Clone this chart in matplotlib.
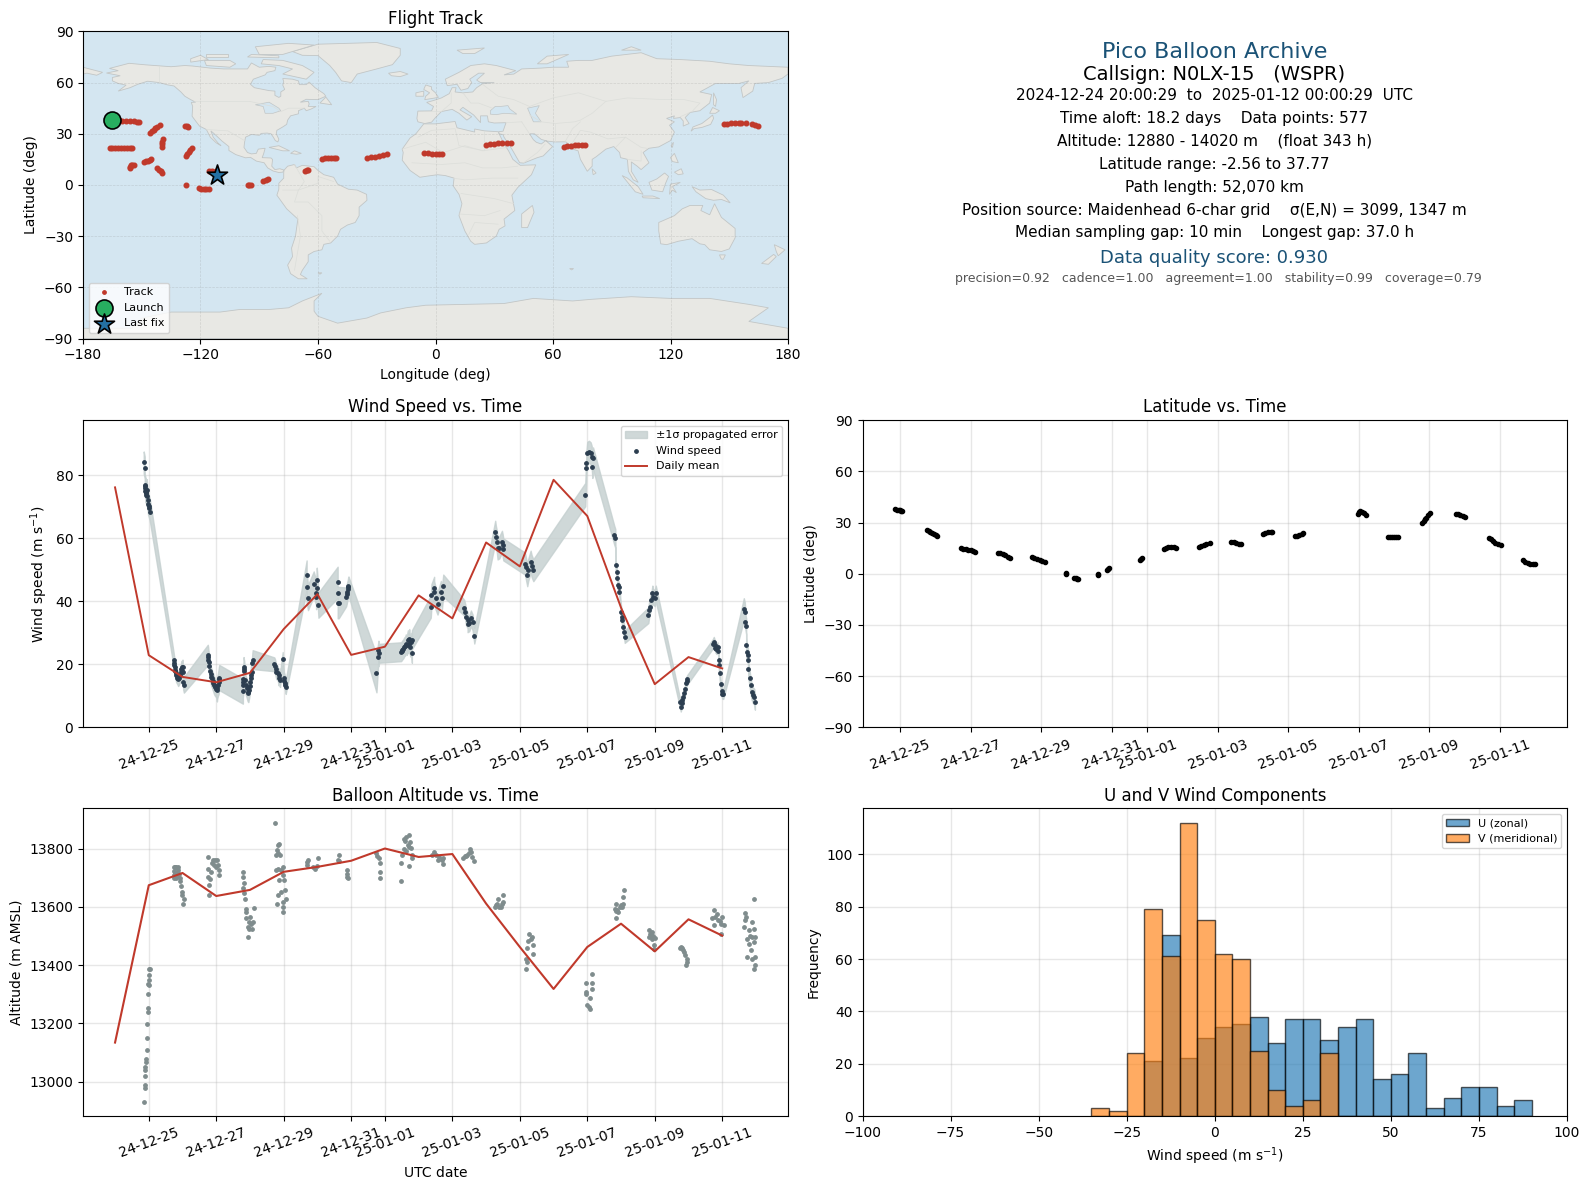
# Pico balloon summary dashboard

import numpy as np
import pandas as pd
import matplotlib
matplotlib.use('Agg')
from matplotlib import pyplot as plt
import matplotlib.dates as mdates

# days are counted from 2024-12-25 00:00 UTC
BASE_DATE = '2024-12-25'
tick_dates = ['2024-12-25', '2024-12-27', '2024-12-29', '2024-12-31', '2025-01-01', '2025-01-03',
              '2025-01-05', '2025-01-07', '2025-01-09', '2025-01-11']

mean_days = [-1, 0, 1, 2, 3, 4, 5, 6, 7, 8, 9, 10, 11, 12, 13, 14, 15, 16, 17]
wind_mean = [76.2, 22.9, 16, 14.3, 17.3, 31.2, 42.3, 23, 25.6, 41.9, 34.6, 58.7, 51.1, 78.6, 67.1, 38, 13.7, 22.3, 18.7]
alt_mean = [13134, 13674, 13716, 13637, 13658, 13720, 13737, 13758, 13800, 13771, 13781, 13611, 13462, 13318,
            13462, 13542, 13447, 13557, 13501]

wind_days = [
    -0.15, -0.12, -0.12, -0.11, -0.10, -0.10, -0.09, -0.08, -0.07, -0.07, -0.06, -0.05, -0.03, -0.02, 0.0, 0.02, 0.04,
    0.74, 0.75, 0.76, 0.77, 0.78, 0.79, 0.80, 0.81, 0.83, 0.85, 0.87, 0.90, 0.92, 0.95, 0.96, 0.98, 0.99, 1.0, 1.0, 1.02, 1.04,
    1.75, 1.76, 1.77, 1.78, 1.80, 1.82, 1.83, 1.85, 1.87, 1.89, 1.91, 1.93, 1.95, 1.97, 2.0, 2.02, 2.03, 2.05, 2.07, 2.08, 2.09,
    2.79, 2.79, 2.80, 2.80, 2.81, 2.81, 2.83, 2.85, 2.87, 2.90, 2.93, 2.95, 2.97, 2.99, 3.0, 3.02, 3.03, 3.05, 3.07, 3.08,
    3.72, 3.74, 3.76, 3.78, 3.82, 3.85, 3.87, 3.89, 3.97, 4.0, 4.02, 4.04, 4.05, 4.06,
    4.68, 4.68, 4.72, 4.89, 4.96, 4.96, 4.98, 5.0, 5.03,
    5.6, 5.6, 5.6, 5.63, 5.85, 5.87, 5.88, 5.9, 5.91, 5.92,
    6.75, 6.81, 6.81, 6.83,
    7.48, 7.5, 7.52, 7.55, 7.57, 7.6, 7.62, 7.65, 7.68, 7.7, 7.72, 7.75, 7.78, 7.8, 7.8,
    8.36, 8.38, 8.46, 8.46, 8.5, 8.56, 8.66, 8.69, 8.73,
    9.35, 9.38, 9.4, 9.45, 9.45, 9.5, 9.55, 9.6, 9.65,
    10.27, 10.29, 10.32, 10.34, 10.39, 10.47, 10.49, 10.51,
    11.15, 11.17, 11.22, 11.25, 11.32, 11.35, 11.4,
    12.94, 12.97, 12.97, 13.0, 13.05, 13.1, 13.13, 13.15, 13.17,
    13.8, 13.83, 13.84, 13.87, 13.89, 13.91, 13.93, 13.95,
    14.0, 14.02, 14.04, 14.07, 14.09, 14.11,
    14.81, 14.83, 14.85, 14.9, 14.93, 14.95, 15.0, 15.03,
    15.74, 15.77, 15.8, 15.82, 15.85, 15.88, 15.9, 15.93, 15.95, 15.97,
    16.72, 16.75, 16.78, 16.8, 16.83, 16.86, 16.88,
    16.9, 16.9, 16.92, 16.95, 16.98, 17.0, 17.03,
    17.64, 17.67, 17.69, 17.71, 17.71, 17.72, 17.76, 17.77, 17.77, 17.81, 17.84, 17.87, 17.91, 17.95, 17.97,
]
wind_speed = [
    84.1, 82.5, 76.9, 76.5, 76.0, 75.0, 75.5, 74.5, 74.8, 73.8, 75.3, 73.5, 72.2, 71.0, 70.3, 69.5, 68.4,
    21.3, 20.5, 19.8, 19.0, 18.3, 17.8, 17.2, 16.6, 16.2, 15.8, 15.3, 15.8, 16.5, 17.5, 18.5, 19.0, 18.0, 19.3, 17.6, 14.5, 13.5,
    23.0, 22.3, 21.5, 20.6, 19.5, 17.8, 17.0, 16.0, 15.5, 14.8, 14.2, 13.5, 13.0, 12.7, 12.3, 11.7, 12.6, 13.5, 14.5, 15.3, 15.8,
    11.5, 13.4, 14.4, 15.2, 18.5, 19.3, 18.0, 15.0, 13.5, 12.5, 11.3, 11.0, 12.0, 13.2, 14.5, 15.5, 16.5, 17.5, 20.5, 21.5,
    20.0, 19.5, 18.5, 17.5, 17.3, 15.5, 16.5, 15.0, 21.7, 15.5, 14.8, 14.0, 13.3, 12.8,
    48.3, 44.5, 41.2, 45.5, 42.7, 41.5, 46.7, 44.1, 38.8,
    46.0, 42.8, 39.6, 39.6, 41.4, 42.3, 43.0, 43.8, 44.5, 44.9,
    17.1, 24.5, 22.4, 23.5,
    24.0, 24.3, 24.6, 25.0, 25.5, 25.8, 26.5, 26.0, 27.8, 26.5, 28.2, 25.5, 27.0, 23.5, 27.8,
    38.3, 42.0, 44.3, 43.0, 41.0, 39.3, 43.0, 41.0, 45.0,
    38.0, 36.7, 35.1, 34.0, 32.7, 33.0, 34.6, 33.3, 29.1,
    62.1, 60.5, 58.9, 56.8, 57.1, 58.9, 57.9, 56.5,
    52.0, 51.0, 48.3, 50.0, 52.6, 51.2, 49.9,
    73.9, 82.2, 83.8, 87.2, 87.5, 87.0, 85.9, 82.7, 85.4,
    61.0, 60.0, 51.5, 49.4, 47.5, 45.2, 44.7, 43.0,
    36.7, 35.1, 34.0, 32.0, 30.4, 28.8,
    35.6, 37.2, 38.3, 40.4, 42.5, 41.5, 41.0, 42.5,
    8.1, 6.5, 7.6, 8.7, 9.7, 10.8, 12.2, 14.0, 14.8, 15.2,
    26.5, 27.2, 26.2, 25.2, 24.8, 25.5, 24.3,
    21.3, 19.8, 17.1, 13.6, 11.6, 10.6, 10.5,
    37.5, 36.7, 33.4, 32.1, 26.1, 24.0, 22.9, 21.3, 18.4, 15.5, 13.4, 11.3, 10.2, 9.7, 8.1,
]
wind_err = [
    3.5, 3.5, 3.5, 3.5, 3.5, 3.5, 3.5, 3.5, 3.5, 3.5, 3.5, 3.5, 3.5, 3.5, 3.5, 3.5, 3.5,
    2.2, 2.2, 2.2, 2.2, 2.2, 2.2, 2.2, 2.2, 2.2, 2.2, 2.2, 2.2, 2.2, 2.2, 2.2, 2.2, 2.2, 2.2, 2.2, 2.5, 2.5,
    3.2, 3.2, 3.0, 3.0, 3.0, 2.8, 2.8, 2.8, 2.8, 2.8, 2.8, 2.8, 2.8, 2.8, 2.8, 3.5, 3.5, 3.5, 4.0, 4.0, 4.0,
    4.0, 4.0, 4.0, 4.0, 3.0, 3.0, 3.0, 3.0, 3.0, 3.0, 3.0, 3.0, 3.0, 3.0, 3.0, 3.0, 3.0, 3.0, 3.0, 3.0,
    2.2, 2.2, 2.2, 2.2, 2.2, 2.2, 2.2, 2.2, 2.2, 2.2, 2.2, 2.2, 2.2, 2.2,
    4.7, 4.7, 4.0, 4.0, 4.0, 4.0, 4.0, 4.0, 4.0,
    5.0, 5.0, 5.0, 5.0, 3.0, 3.0, 3.0, 3.0, 3.0, 3.0,
    6.0, 3.0, 3.0, 3.0,
    3.0, 3.0, 3.0, 3.0, 3.0, 3.0, 3.0, 3.0, 3.0, 3.0, 3.0, 3.0, 3.0, 3.0, 3.0,
    3.5, 3.5, 3.5, 3.5, 3.5, 3.5, 3.5, 3.5, 3.5,
    2.5, 2.5, 2.5, 2.5, 2.5, 2.5, 2.5, 2.5, 2.5,
    3.5, 3.5, 3.5, 3.5, 3.5, 3.5, 3.5, 3.5,
    3.5, 3.5, 3.5, 3.5, 3.5, 3.5, 3.5,
    3.7, 3.5, 3.5, 3.5, 3.5, 3.5, 3.5, 3.5, 3.5,
    3.0, 3.0, 1.5, 1.5, 1.5, 1.5, 1.5, 1.5,
    2.0, 2.0, 2.0, 2.0, 2.0, 2.0,
    2.5, 2.5, 2.5, 2.5, 2.5, 2.5, 2.5, 2.5,
    1.5, 1.5, 1.5, 1.5, 1.5, 1.5, 1.5, 1.5, 1.5, 1.5,
    1.5, 1.5, 1.5, 1.5, 1.5, 1.5, 1.5,
    1.5, 1.5, 1.5, 1.5, 1.5, 1.5, 1.5,
    3.5, 3.0, 2.5, 2.5, 2.5, 2.5, 2.5, 2.5, 2.5, 2.5, 2.5, 2.5, 2.5, 2.5, 2.5,
]

alt_days = [
    -0.15, -0.12, -0.12, -0.11, -0.10, -0.10, -0.08, -0.08, -0.06, -0.06, -0.06, -0.03, -0.03, -0.03, -0.03, 0.02, 0.0, 0.02, 0.0, 0.04,
    0.74, 0.74, 0.75, 0.76, 0.78, 0.78, 0.80, 0.82, 0.83, 0.85, 0.87, 0.88, 0.90, 0.92, 0.94, 0.96, 0.98, 1.01, 0.98, 1.03,
    1.75, 1.75, 1.75, 1.78, 1.80, 1.82, 1.85, 1.88, 1.90, 1.93, 1.95, 1.98, 2.01, 2.05, 2.07, 2.07,
    2.78, 2.78, 2.83, 2.78, 2.83, 2.85, 2.87, 2.88, 2.88, 2.93, 2.93, 2.96, 2.98, 3.0, 3.03, 3.06, 3.08, 3.11,
    3.73, 3.77, 3.79, 3.82, 3.84, 3.87, 3.90, 3.77, 3.84, 3.92, 3.99, 3.79, 3.82, 3.87, 3.93, 3.97, 3.97, 3.99, 4.02, 4.05, 4.07, 3.99,
    4.68, 4.71, 4.70, 4.86, 4.94, 4.98, 5.03,
    5.6, 5.63, 5.65, 5.87, 5.87, 5.88, 5.92,
    6.73, 6.78, 6.83, 6.84, 6.84, 6.84,
    7.49, 7.49, 7.52, 7.57, 7.57, 7.62, 7.67, 7.72, 7.74, 7.77, 7.79, 7.72, 7.8, 7.64, 7.59, 7.7,
    8.46, 8.51, 8.56, 8.61, 8.69, 8.71, 8.41, 8.73,
    9.33, 9.4, 9.48, 9.53, 9.55, 9.58, 9.65, 9.36, 9.44,
    10.27, 10.32, 10.34, 10.39, 10.44, 10.49, 10.51, 10.3, 10.47,
    11.18, 11.18, 11.22, 11.2, 11.4, 11.39, 11.25, 11.32, 11.27, 11.37,
    13.15, 13.13, 13.15, 12.96, 12.97, 12.96, 13.09, 13.0, 13.05, 13.07,
    13.84, 13.82, 13.86, 13.92, 14.0, 14.06, 14.07, 14.09, 13.89, 13.96, 13.84, 14.03,
    14.83, 14.88, 14.93, 14.83, 14.93, 15.0, 14.98, 14.98, 14.86, 14.96,
    15.74, 15.82, 15.87, 15.9, 15.95, 15.97, 15.92, 15.78, 15.85,
    16.75, 16.7, 16.8, 16.77, 16.88, 16.95, 17.0, 17.05, 16.95, 16.85, 16.92,
    17.95, 17.69, 17.67, 17.89, 17.64, 17.79, 17.94, 17.74, 17.87, 17.79, 17.94, 17.97, 17.84, 17.74, 17.87, 17.98, 17.94, 17.98, 17.71, 17.82,
]
alt_m = [
    12930, 12978, 12987, 13019, 13039, 13050, 13068, 13079, 13110, 13151, 13199, 13239, 13251, 13299, 13336, 13331, 13348, 13365, 13386, 13388,
    13735, 13722, 13710, 13700, 13737, 13715, 13700, 13735, 13715, 13705, 13738, 13725, 13712, 13700, 13690, 13670, 13650, 13609, 13640, 13628,
    13770, 13728, 13703, 13640, 13674, 13697, 13720, 13749, 13760, 13743, 13760, 13737, 13760, 13743, 13726, 13708,
    13720, 13703, 13680, 13663, 13648, 13628, 13594, 13582, 13560, 13497, 13531, 13548, 13525, 13565, 13542, 13525, 13548, 13597,
    13889, 13777, 13794, 13811, 13786, 13817, 13779, 13726, 13728, 13726, 13737, 13609, 13640, 13691, 13651, 13582, 13600, 13617, 13691, 13659, 13628, 13708,
    13743, 13760, 13752, 13737, 13729, 13740, 13769,
    13760, 13779, 13758, 13726, 13714, 13703, 13700,
    13783, 13774, 13768, 13749, 13718, 13700,
    13690, 13749, 13777, 13800, 13834, 13840, 13811, 13848, 13823, 13802, 13777, 13739, 13769, 13790, 13825, 13805,
    13789, 13777, 13760, 13771, 13760, 13746, 13779, 13766,
    13768, 13775, 13783, 13800, 13789, 13771, 13758, 13773, 13778,
    13600, 13611, 13628, 13600, 13600, 13617, 13640, 13605, 13608,
    13388, 13422, 13411, 13459, 13439, 13468, 13482, 13491, 13508, 13497,
    13371, 13340, 13319, 13339, 13308, 13299, 13288, 13262, 13256, 13250,
    13560, 13594, 13611, 13582, 13605, 13611, 13634, 13659, 13590, 13600, 13585, 13600,
    13520, 13508, 13514, 13497, 13491, 13493, 13468, 13454, 13505, 13500,
    13459, 13459, 13445, 13434, 13422, 13411, 13399, 13462, 13452,
    13588, 13560, 13565, 13539, 13554, 13542, 13565, 13537, 13508, 13575, 13550,
    13628, 13577, 13554, 13548, 13529, 13520, 13525, 13491, 13497, 13474, 13480, 13497, 13451, 13428, 13420, 13428, 13388, 13399, 13565, 13500,
]

lat_days = [
    -0.15, -0.10, -0.05, 0.0, 0.03, 0.05,
    0.75, 0.80, 0.85, 0.90, 0.95, 1.0, 1.05,
    1.73, 1.78, 1.85, 1.92, 2.0, 2.07, 2.11,
    2.77, 2.83, 2.9, 2.97, 3.05, 3.12,
    3.74, 3.8, 3.87, 3.95, 4.03, 4.1,
    4.69, 4.69,
    4.92, 4.97, 5.0, 5.04,
    5.61, 5.61,
    5.87, 5.9, 5.93,
    6.8, 6.83, 6.86,
    7.48, 7.53, 7.6, 7.68, 7.75, 7.83,
    8.46, 8.52, 8.6, 8.68, 8.77,
    9.38, 9.45, 9.52, 9.6, 9.66,
    10.29, 10.35, 10.42, 10.5, 10.54,
    11.18, 11.25, 11.32, 11.38, 11.43,
    12.98, 13.02, 13.05, 13.1, 13.15, 13.2,
    13.83, 13.88, 13.94, 14.0, 14.06, 14.12,
    14.8, 14.84, 14.88, 14.92, 14.97, 15.03,
    15.76, 15.82, 15.88, 15.95, 16.02,
    16.71, 16.76, 16.82, 16.88, 16.95, 17.03,
    17.66, 17.72, 17.8, 17.87, 17.95, 18.0,
]
lat_deg = [
    37.8, 37.7, 37.5, 37.2, 37.0, 36.9,
    25.9, 25.2, 24.5, 24.0, 23.3, 22.7, 22.1,
    15.3, 14.8, 14.5, 14.0, 13.7, 13.2, 12.8,
    12.2, 12.1, 11.5, 10.8, 9.9, 9.2,
    9.8, 9.4, 8.9, 8.1, 7.4, 6.8,
    -0.4, 0.3,
    -2.2, -2.5, -2.8, -3.0,
    -0.6, 0.0,
    2.4, 3.0, 3.3,
    8.0, 8.6, 9.0,
    14.6, 15.1, 15.5, 15.8, 15.9, 15.2,
    15.8, 16.2, 16.9, 17.4, 18.2,
    18.7, 18.5, 18.0, 17.6, 17.4,
    23.4, 23.9, 24.3, 24.6, 24.7,
    22.0, 22.3, 22.9, 23.5, 24.0,
    35.2, 36.3, 36.9, 36.4, 35.6, 34.3,
    21.8, 21.8, 21.8, 21.8, 21.8, 21.8,
    29.8, 30.8, 31.9, 33.0, 34.3, 35.7,
    34.9, 34.8, 34.6, 34.0, 33.4,
    21.2, 20.3, 19.3, 18.3, 17.4, 16.7,
    8.2, 7.2, 6.5, 6.0, 5.6, 5.6,
]

track_lon = [
    -161.7, -160, -158, -156, -154, -152.5, -151.4,
    -146, -145, -144, -143, -142, -140.9,
    -127.9, -127, -126.2,
    -139.5, -139.5, -139.5, -139.4,
    -166.4, -165, -163.5, -162, -160.5, -159, -157.5, -156, -155.2,
    -127.6, -126.8, -126, -125.2, -124.5,
    -148.9, -148, -147, -146, -145.1,
    -156.2, -156, -155.5, -154.8, -154,
    -142, -141, -140.2, -139.5,
    -127.6,
    -120.8, -119.5, -118, -117, -115.7,
    -115.7, -114, -112.3,
    -95.7, -95, -94.4,
    -88, -86.8, -85.3,
    -66.6, -65.8, -64.9,
    -57.8, -56.5, -55, -53.5, -52, -50.9,
    -34.8, -33, -31, -29, -27, -25,
    -5.8, -4, -2, 0, 2, 3.2,
    25.9, 28, 30, 32, 34, 36.5, 38.7,
    65.4, 67, 69, 71, 73, 75, 76.5,
    147.1, 149, 151, 153, 155, 156.2, 158.7, 161.8, 163, 164.7,
]
track_lat = [
    37.8, 37.7, 37.6, 37.4, 37.2, 37.0, 36.9,
    30.5, 31.5, 32.4, 33.3, 34.2, 35.2,
    34.8, 34.3, 33.9,
    22.3, 23.8, 25.4, 27,
    21.7, 21.8, 21.8, 21.7, 21.8, 21.7, 21.8, 21.8, 21.7,
    17.2, 18.2, 19.3, 20.5, 21.7,
    13.3, 13.8, 14.3, 14.9, 15.5,
    10, 10.8, 11.5, 11.7, 11.9,
    10, 9, 8, 7,
    0,
    -1.8, -2.2, -2.4, -2.5, -2.5,
    8.4, 8.3, 8,
    0, 0, 0,
    2.2, 2.8, 3.3,
    8, 8.5, 9,
    15.3, 15.6, 15.8, 15.9, 15.9, 15.9,
    15.9, 16.2, 16.6, 17, 17.6, 18.2,
    18.8, 18.5, 18.3, 18.1, 18, 18,
    23.5, 23.9, 24.2, 24.5, 24.6, 24.6, 24.7,
    22.1, 22.7, 23.1, 23.4, 23.6, 23.7, 23.7,
    35.6, 35.9, 36.2, 36.3, 36.4, 36.4, 36.4, 35.8, 35.2, 34.4,
]
launch_pos = (-165.2, 38.2)
last_fix_pos = (-111.6, 6.1)

hist_edges = [-35, -30, -25, -20, -15, -10, -5, 0, 5, 10, 15, 20, 25, 30, 35, 40, 45, 50, 55, 60, 65, 70, 75, 80, 85, 90]
u_counts = [0, 0, 0, 21, 69, 22, 30, 34, 35, 38, 28, 37, 37, 29, 34, 37, 14, 16, 24, 3, 7, 11, 11, 4, 6]
v_counts = [3, 2, 24, 79, 61, 112, 75, 62, 60, 25, 10, 4, 6, 24, 0, 0, 0, 0, 0, 0, 0, 0, 0, 0, 0]

# coarse land outlines (lon, lat)
north_america = [(-168, 65.6), (-162, 67), (-166.5, 68.3), (-156.5, 71.3), (-148, 70.4), (-135, 69.3), (-128, 70), (-124, 69.7),
                 (-115, 68.5), (-108, 68), (-100, 68), (-96, 68), (-94, 71.5), (-90, 69), (-85, 69.5), (-81.5, 69), (-82, 67), (-86, 66),
                 (-87, 64.5), (-93, 62), (-94.5, 59), (-92.5, 57), (-85, 55.3), (-82, 55), (-82, 52.5), (-80, 51.3), (-79, 52), (-79, 54.5),
                 (-77, 56), (-78, 58.5), (-77.5, 60.5), (-78, 62.4), (-73, 62), (-70, 61), (-69.5, 58.8), (-66, 58.8), (-64.5, 60.3),
                 (-61.5, 57), (-57, 53.5), (-56, 52), (-60, 50), (-66, 50.2), (-69, 48.5), (-65, 49), (-64.5, 47.5), (-65, 46), (-61, 46),
                 (-63.5, 44.5), (-66, 43.5), (-67, 45), (-70, 43.5), (-70, 41.7), (-74, 40.5), (-75.5, 38), (-76, 35.5), (-78, 34), (-81, 32),
                 (-81.3, 30), (-80, 26.8), (-80.5, 25.2), (-81.8, 26), (-82.8, 28), (-84, 30), (-86, 30.4), (-89, 30.2), (-90, 29.1),
                 (-94, 29.6), (-97, 28), (-97.5, 25), (-97.8, 22), (-96, 19), (-94, 18.2), (-91.5, 18.5), (-90.5, 21), (-87, 21.5),
                 (-87.7, 18.5), (-88.5, 16), (-84, 15.8), (-83.2, 14.9), (-83.6, 11), (-82, 9), (-79.5, 9.5), (-77.3, 8.7), (-78, 7.5),
                 (-80, 7.3), (-83, 8.2), (-85.7, 10), (-87.5, 13), (-91.5, 14), (-94.5, 16.2), (-97, 15.9), (-102, 17.8), (-105.5, 20.2),
                 (-105.5, 22.5), (-109, 25.7), (-112.5, 29.5), (-114.7, 31.7), (-113.5, 28), (-111, 24.5), (-109.5, 23), (-112, 24.7),
                 (-115, 28), (-117, 32.5), (-120.5, 34.5), (-122.5, 37.5), (-124.3, 40.3), (-124, 46), (-124.7, 48.4), (-122.5, 48.5),
                 (-125, 50), (-128, 52), (-130, 54.5), (-133.5, 58), (-137, 58.7), (-141, 60), (-147, 60.8), (-152, 59), (-156, 57),
                 (-162, 55), (-158, 58.5), (-162, 59.5), (-165, 61), (-165, 63), (-161, 64)]
greenland = [(-73, 78.2), (-68, 76), (-60, 75.8), (-54, 70), (-51, 66), (-48, 61), (-43, 60), (-40, 65), (-30, 68), (-22, 70.5),
             (-18, 76), (-18, 80), (-30, 83.5), (-60, 82.5)]
south_america = [(-77.3, 8.7), (-75.5, 11), (-72, 12), (-71, 10), (-68, 11.5), (-62, 10.7), (-60, 8.5), (-57, 6), (-52, 4.5), (-50, 0.5),
                 (-44.5, -2.5), (-40, -3), (-35.2, -5.5), (-35, -9), (-39, -13), (-39, -18), (-41, -22), (-45, -23.5), (-48.5, -26),
                 (-50, -30), (-53.5, -34), (-57, -34.8), (-58, -38), (-62, -39), (-65, -41), (-65, -45), (-68, -50), (-69, -52.5),
                 (-65.5, -55), (-70, -55), (-74, -52), (-75.5, -47), (-73, -42), (-73.5, -37), (-71.5, -30), (-70.3, -20), (-76, -14),
                 (-81, -6), (-80, -2.5), (-80, 1), (-77.5, 4), (-77.5, 7.5)]
africa = [(-6, 35.8), (0, 35.8), (10, 37.2), (11, 33.5), (20, 31), (20, 32.8), (25, 31.7), (32, 31.2), (32.5, 30), (35, 24), (37.3, 20),
          (39.5, 15), (43.3, 11.5), (51.2, 11.8), (49, 6), (42, -1.5), (39, -6), (40.5, -15), (35, -20), (35.5, -24), (32.5, -26),
          (31, -30), (26, -34), (20, -34.8), (18, -33), (15, -27), (12, -18), (13.5, -11), (12, -5.5), (9, -0.5), (9.5, 4), (5, 5.5),
          (1, 6), (-4, 5.2), (-8, 4.5), (-13, 8.5), (-17, 14.5), (-16.5, 19), (-17, 21), (-13, 27.5), (-10, 30)]
eurasia = [(-9, 37), (-9.5, 39), (-9, 43.3), (-2, 43.4), (-1, 46), (-4.5, 48.4), (-1, 49.5), (3, 51), (7, 53.5), (8.5, 57), (10.5, 57),
           (10, 54.5), (14, 54), (19, 54.5), (21, 57), (24, 59.3), (30, 60), (23, 60), (21, 61.5), (25, 65.5), (22, 65.5), (17.5, 62),
           (18.5, 60), (16.5, 56.5), (13, 55.5), (11, 59), (6, 58.2), (5, 62), (12, 66), (18, 70), (25, 71), (31, 70), (41, 67), (35, 64.5),
           (40, 65), (44, 68), (54, 68.5), (60, 69), (68, 69), (67, 72.5), (73, 73), (80, 73), (90, 75.5), (105, 77.5), (113, 74), (125, 73.5),
           (140, 72.5), (150, 71), (160, 70), (170, 69.5), (180, 69), (180, 65), (177, 62.5), (170, 60), (163, 59.5), (162, 55), (157, 51.2),
           (156, 57), (160, 61), (155, 59.5), (143, 59.5), (135, 54.5), (141, 53), (140, 48), (135, 43.5), (130, 42.5), (127.5, 39.5),
           (129.5, 36), (126.5, 34.5), (126.5, 37.5), (125, 39.5), (121.5, 39), (122, 40.5), (118, 39), (122, 37), (119.5, 35), (122, 31),
           (120, 26), (114, 22.3), (109, 21.5), (106, 19), (109, 13), (105, 9), (103, 11), (100, 13.5), (100, 8), (103.5, 1.5), (101, 3),
           (98.5, 8), (98, 15), (94.5, 16), (94, 19), (91, 22.5), (87, 21), (82, 16.5), (80, 15), (80, 11), (77.5, 8), (74, 15), (72.8, 20),
           (70, 21), (69, 23), (66.5, 25.3), (61, 25.2), (57, 25.7), (54, 26.7), (50.5, 30), (48, 30), (50, 26.5), (51.5, 25), (54, 24),
           (56.3, 26), (59.8, 22.5), (55, 17), (52, 16), (45, 12.8), (43, 13), (39, 21), (35, 28), (34.5, 29.5), (32.5, 30), (32.3, 31.2),
           (34.5, 31.5), (36, 36.5), (30, 36.3), (27, 37), (26.5, 40.5), (23, 40.5), (23, 36.5), (19.5, 41), (14, 45.5), (12.5, 44), (18.5, 40),
           (16, 38), (12, 42), (8.5, 44.3), (3, 43), (0, 39.5), (-2, 36.8), (-5.5, 36)]
chukotka = [(-180, 69), (-175, 67.5), (-170, 66), (-173, 64.3), (-178, 65.5), (-180, 65)]
australia = [(114, -22), (122, -18), (126, -14), (130, -12), (136.5, -12), (135.5, -15), (140, -17.5), (142.5, -11), (146, -19), (153, -25.5),
             (153, -31), (150, -37.5), (146, -39), (140, -38), (137.5, -35), (135, -34.5), (131, -31.5), (124, -33), (118, -35), (115, -34.5),
             (114, -27)]
antarctica = [(-180, -90), (-180, -84), (-155, -84), (-150, -78), (-135, -74.5), (-110, -74.5), (-100, -73), (-85, -73), (-75, -72), (-68, -68),
              (-58, -63.5), (-62, -68), (-62, -74), (-60, -77), (-50, -81), (-35, -78), (-28, -75), (-15, -72), (-5, -70.5), (15, -70), (35, -69.5),
              (50, -66.5), (70, -68), (80, -67), (100, -65.5), (120, -66.5), (140, -66.5), (160, -70), (170, -72), (165, -76), (160, -80), (180, -84),
              (180, -90)]
small_islands = [
    [(-62, 66), (-66, 62), (-72, 63.5), (-78, 65), (-73, 68), (-80, 70), (-89, 71), (-88, 73.5), (-78, 73), (-68, 70)],
    [(-117, 70), (-105, 69), (-102, 71), (-105, 73), (-118, 73)],
    [(-125, 72), (-116, 73.5), (-120, 76), (-125, 74)],
    [(-90, 76.5), (-78, 76.5), (-62, 82), (-75, 83), (-92, 81)],
    [(-96, 75), (-80, 74.5), (-80, 75.7), (-94, 76.5)],
    [(-117, 75), (-106, 75), (-106, 76.5), (-117, 76.5)],
    [(-59, 48), (-56, 51.5), (-53, 47)],
    [(-85, 22), (-80, 23), (-74.5, 20), (-78, 20)],
    [(-74, 18.5), (-72, 20), (-68.5, 18.5), (-71, 18)],
    [(-24, 65.5), (-18, 66.5), (-14, 65), (-18, 63.5), (-22.5, 64)],
    [(142, 54), (143.5, 50), (143, 46), (142, 47)],
    [(130.5, 31.5), (131.5, 34), (136, 36), (140, 39.5), (141.5, 41), (142, 39), (140.5, 35.5), (136, 33.7), (132, 33)],
    [(140, 42), (141.5, 45.4), (145, 43.5), (143, 42)],
    [(120.3, 23), (121.5, 25), (121, 22)],
    [(120, 16), (122, 18.5), (124, 13), (121, 13.7)],
    [(122, 7.5), (125.5, 9.5), (126.5, 6.5), (124, 6)],
    [(109, 1.5), (113, 3.5), (117, 7), (119, 5), (117.5, 1), (116, -4), (110.5, -3)],
    [(95.3, 5.5), (98, 4), (103.5, -1), (106, -5.5), (102, -4), (98.5, 1)],
    [(105.5, -6.5), (111, -6.5), (114.5, -8), (106, -7.5)],
    [(119.5, -5.5), (120, 0.5), (125, 1.5), (121, -1), (123, -4.5), (121, -3)],
    [(131, -1), (135, -3), (141, -2.7), (147, -6), (150.5, -10.5), (146, -8.5), (142, -9), (138, -8), (133, -4)],
    [(80, 9.5), (82, 7), (80.5, 6)],
    [(49.5, -12), (50.3, -16), (47, -25), (44, -25), (44, -17)],
    [(145, -41), (148, -41), (147, -43.5), (146, -43.5)],
    [(173, -35), (178.5, -38), (175, -41.5), (174, -39)],
    [(172.7, -40.7), (174, -42), (170, -46.5), (166.5, -46)],
    [(-5.5, 50), (1.5, 51.3), (0, 54), (-2, 56), (-2, 57.5), (-5, 58.6), (-6, 56), (-3, 54), (-5, 52)],
    [(-10, 52), (-6, 52), (-6, 55), (-10, 54)],
    [(11, 79), (25, 80.3), (20, 77), (14, 77)],
    [(52, 71), (57, 71), (68, 76.5), (57, 75.5)],
    [(95, 79), (105, 79), (100, 81)],
    [(-60, -51.5), (-58, -51.5), (-59, -52.3)],
    [(68.5, -49), (70.5, -49), (69.5, -49.8)],
]
inland_seas = [
    [(28, 41.5), (31, 41.2), (35, 42), (41.5, 41.5), (38, 44.5), (37, 46.5), (33, 46), (30.5, 46), (28, 43.5)],
    [(47, 45), (53, 46.5), (51, 42), (54, 37), (50, 37), (48.5, 41)],
    [(-92, 47), (-85, 48.5), (-80, 45), (-79, 43.5), (-83, 42), (-87, 42), (-88, 46)],
]
border_lines = [
    [(-123, 49), (-95, 49), (-83, 46), (-79, 43), (-75, 45), (-67, 45)],
    [(-141, 60), (-141, 69.5)],
    [(-117, 32.5), (-106, 31.7), (-97.5, 26)],
    [(-70, -3), (-60, 1), (-60, 5), (-52, 2)],
    [(-70, -3), (-72, -10), (-65, -10), (-58, -18), (-58, -27), (-54, -33)],
    [(-70.5, -18), (-69, -30), (-72, -50)],
    [(-72, 12), (-67, 2), (-70, -3), (-78, -3)],
    [(-9, 28), (-2, 32), (10, 33), (12, 23), (25, 20), (25, 31)],
    [(-17, 21), (-5, 25), (4, 19), (15, 23), (24, 20), (37, 22)],
    [(-12, 13), (3, 12), (15, 13), (24, 10), (34, 10), (42, 11)],
    [(9, 4), (15, 3), (29, 4), (42, 4)],
    [(13, -5), (30, -8), (40, -11)],
    [(12, -17), (25, -18), (33, -15)],
    [(17, -29), (20, -22), (32, -23)],
    [(-2, 43), (3, 43), (8, 48), (8, 54)],
    [(14, 54), (18, 48), (22, 48), (29, 45)],
    [(24, 59), (32, 52), (40, 50), (48, 46), (60, 51), (73, 54), (87, 49), (98, 51), (117, 50), (127, 50), (135, 48), (131, 43)],
    [(48, 41), (54, 37), (61, 36), (71, 37), (74, 38), (80, 42), (87, 49)],
    [(44, 37), (48, 30)],
    [(36, 36.5), (44, 37)],
    [(61, 25), (61, 36)],
    [(66, 25), (70, 33), (74, 37)],
    [(69, 23), (74, 32), (79, 31), (88, 27), (97, 28), (92, 22)],
    [(97, 28), (105, 22), (108, 21.5)],
    [(98, 15), (105, 14), (105, 20)],
    [(45, 13), (52, 19), (56, 24)],
    [(130, 42.5), (125, 40)],
]

# text panel lines: text, size, colour
info_lines = [
    ('Pico Balloon Archive', 16, '#1a5276'),
    ('Callsign: N0LX-15   (WSPR)', 14, 'black'),
    ('2024-12-24 20:00:29  to  2025-01-12 00:00:29  UTC', 11, 'black'),
    ('Time aloft: 18.2 days    Data points: 577', 11, 'black'),
    ('Altitude: 12880 - 14020 m    (float 343 h)', 11, 'black'),
    ('Latitude range: -2.56 to 37.77', 11, 'black'),
    ('Path length: 52,070 km', 11, 'black'),
    ('Position source: Maidenhead 6-char grid    σ(E,N) = 3099, 1347 m', 11, 'black'),
    ('Median sampling gap: 10 min    Longest gap: 37.0 h', 11, 'black'),
    ('Data quality score: 0.930', 13, '#1a5276'),
    ('precision=0.92   cadence=1.00   agreement=1.00   stability=0.99   coverage=0.79', 9, '#555555'),
]
info_y_px = [51.7, 74.5, 95.3, 118.6, 141.2, 164, 187.6, 210.8, 233, 257.8, 278.8]
info_x_px = [1214.8, 1214, 1214.8, 1214, 1214.8, 1214, 1214.8, 1214.8, 1214.8, 1214, 1218.8]

RED = '#c0392b'
NAVY = '#2c3e50'
SLATE = '#7f8c8d'
W, H = 1590, 1189


def axes_px(fig, left, top, right, bottom):
    return fig.add_axes([left / W, 1 - bottom / H, (right - left) / W, (bottom - top) / H])


def to_num(days):
    return mdates.date2num(pd.Timestamp(BASE_DATE)) + np.asarray(days, dtype=float)


def date_axis(ax, d0, d1):
    ax.set_xlim(to_num(d0), to_num(d1))
    ax.set_xticks(mdates.date2num(pd.to_datetime(tick_dates)))
    ax.xaxis.set_major_formatter(mdates.DateFormatter('%y-%m-%d'))
    ax.tick_params(axis='x', rotation=20)
    ax.grid(True, color='#b0b0b0', alpha=0.3, lw=1)
    ax.set_axisbelow(True)


fig = plt.figure(figsize=(W / 100, H / 100), dpi=100)

# flight track map
ax = axes_px(fig, 83, 31.4, 788, 338.5)
ax.set_facecolor('#d4e6f1')
land = [north_america, greenland, south_america, africa, eurasia, chukotka, australia, antarctica] + small_islands
for shape in land:
    xs, ys = zip(*shape)
    ax.fill(xs, ys, facecolor='#e8e8e4', edgecolor='#c2c6c6', lw=0.6, zorder=1)
for shape in inland_seas:
    xs, ys = zip(*shape)
    ax.fill(xs, ys, facecolor='#d4e6f1', edgecolor='#c2c6c6', lw=0.5, zorder=1.1)
for shape in border_lines:
    xs, ys = zip(*shape)
    ax.plot(xs, ys, color='#dcdeda', lw=0.5, zorder=1.2)
ax.scatter(track_lon, track_lat, s=11, color=RED, zorder=3, label='Track')
ax.scatter(*launch_pos, s=150, color='#27ae60', edgecolor='black', lw=1.2, zorder=4, label='Launch')
ax.scatter(*last_fix_pos, s=230, marker='*', color='#2471a3', edgecolor='black', lw=1.2, zorder=4, label='Last fix')
ax.set_xlim(-180, 180)
ax.set_ylim(-90, 90)
ax.set_xticks(np.arange(-180, 181, 60))
ax.set_yticks(np.arange(-90, 91, 30))
ax.grid(True, color='#888888', alpha=0.25, lw=0.5, ls='--', zorder=2)
ax.set_xlabel('Longitude (deg)')
ax.set_ylabel('Latitude (deg)')
ax.set_title('Flight Track', pad=5.3)
leg = ax.legend(loc='lower left', fontsize=8)
leg.legend_handles[0].set_sizes([6])

# text panel
for (text, size, colour), x_px, y_px in zip(info_lines, info_x_px, info_y_px):
    fig.text(x_px / W, 1 - y_px / H, text, fontsize=size, color=colour, ha='center', va='center')

# wind speed
ax = axes_px(fig, 83, 420.3, 788, 727.3)
order = np.argsort(wind_days, kind='stable')
t = to_num(wind_days)[order]
v = np.array(wind_speed)[order]
e = np.array(wind_err)[order]
ax.fill_between(t, v - e, v + e, color='#c4cfcf', alpha=0.8, label='±1σ propagated error')
ax.scatter(t, v, s=6, color=NAVY, zorder=3, label='Wind speed')
ax.plot(to_num(mean_days), wind_mean, color=RED, lw=1.4, zorder=4, label='Daily mean')
ax.set_ylim(0, 97.5)
date_axis(ax, -1.95, 18.95)
ax.set_ylabel('Wind speed (m s$^{-1}$)')
ax.set_title('Wind Speed vs. Time')
ax.legend(loc='upper right', fontsize=8)

# latitude
ax = axes_px(fig, 862.5, 420.3, 1567, 727.3)
ax.scatter(to_num(lat_days), lat_deg, s=9, color='black', zorder=3)
ax.set_ylim(-90, 90)
ax.set_yticks(np.arange(-90, 91, 30))
date_axis(ax, -1.075, 18.91)
ax.set_ylabel('Latitude (deg)')
ax.set_title('Latitude vs. Time')

# altitude
ax = axes_px(fig, 83, 808.3, 788, 1116)
ax.scatter(to_num(alt_days), alt_m, s=6, color=SLATE, zorder=3)
ax.plot(to_num(mean_days), alt_mean, color=RED, lw=1.5, zorder=4)
ax.set_ylim(12882, 13938)
ax.set_yticks(np.arange(13000, 13801, 200))
date_axis(ax, -1.95, 18.95)
ax.set_xlabel('UTC date')
ax.set_ylabel('Altitude (m AMSL)')
ax.set_title('Balloon Altitude vs. Time', pad=5.3)

# U/V histogram
ax = axes_px(fig, 862.5, 808.3, 1567, 1116)
left = np.array(hist_edges[:-1])
width = np.diff(hist_edges)
ax.bar(left, u_counts, width=width, align='edge', color='#1f77b4', alpha=0.65, edgecolor='black', lw=1, label='U (zonal)', zorder=2)
ax.bar(left, v_counts, width=width, align='edge', color='#ff7f0e', alpha=0.65, edgecolor='black', lw=1, label='V (meridional)', zorder=3)
ax.set_xlim(-100, 100)
ax.set_ylim(0, 117.6)
ax.set_xticks(np.arange(-100, 101, 25))
ax.grid(True, color='#b0b0b0', alpha=0.3, lw=1)
ax.set_axisbelow(True)
ax.set_xlabel('Wind speed (m s$^{-1}$)')
ax.set_ylabel('Frequency')
ax.set_title('U and V Wind Components', pad=5.3)
ax.legend(loc='upper right', fontsize=8)

fig.savefig('out.png', dpi=100)
